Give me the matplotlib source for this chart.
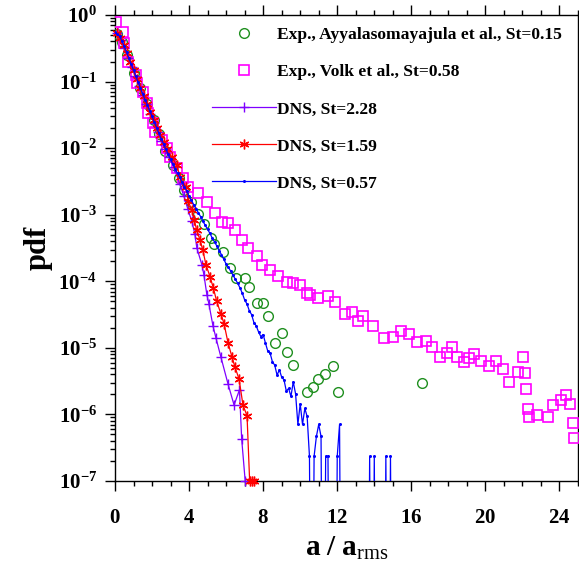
import numpy as np
import matplotlib
matplotlib.use("Agg")
import matplotlib.pyplot as plt
from matplotlib.ticker import FixedLocator, FuncFormatter, LogLocator, MultipleLocator, NullFormatter

plt.rcParams['font.family'] = ['Liberation Serif', 'DejaVu Serif']
plt.rcParams['mathtext.fontset'] = 'custom'
plt.rcParams['mathtext.rm'] = 'Liberation Serif'
plt.rcParams['mathtext.bf'] = 'Liberation Serif:bold'
plt.rcParams['mathtext.it'] = 'Liberation Serif:italic'

# ---------------- data ----------------
# Exp., Ayyalasomayajula et al., St=0.15
ayy_x = [0.11, 0.38, 0.65, 1.02, 1.35, 1.73, 2.10, 2.37, 2.70, 3.13, 3.45, 3.72,
         4.10, 4.47, 4.80, 5.18, 5.34, 5.82, 6.20, 6.52, 7.01, 7.22, 7.65, 7.98,
         8.25, 8.63, 9.00, 9.27, 9.60, 10.35, 10.67, 10.94, 11.32, 11.75, 12.02, 16.60]
ayy_y = [0.519, 0.393, 0.251, 0.135, 0.0802, 0.0461, 0.0265, 0.0163, 0.00908, 0.00560,
         0.00357, 0.00236, 0.00156, 0.00103, 7.28e-4, 4.49e-4, 3.65e-4, 2.76e-4, 1.59e-4,
         1.12e-4, 1.12e-4, 8.24e-5, 4.74e-5, 4.74e-5, 3.02e-5, 1.19e-5, 1.68e-5, 8.7e-6,
         5.56e-6, 2.18e-6, 2.59e-6, 3.43e-6, 4.07e-6, 5.37e-6, 2.18e-6, 2.98e-6]

# Exp., Volk et al., St=0.58
volk_x = [0.05, 0.43, 0.49, 0.70, 1.13, 1.19, 1.51, 1.73, 1.78, 2.05, 2.16, 2.53, 2.80,
          2.96, 3.34, 3.67, 3.94, 4.47, 4.96, 5.39, 5.77, 6.09, 6.47, 6.85, 7.17, 7.65,
          7.92, 8.36, 8.79, 9.27, 9.60, 9.97, 10.35, 10.51, 10.94, 11.48, 11.86, 12.40,
          12.78, 13.10, 13.37, 13.91, 14.50, 14.99, 15.42, 15.85, 16.28, 16.77, 17.14,
          17.57, 17.90, 18.22, 18.49, 18.87, 19.14, 19.41, 19.78, 20.22, 20.59, 20.97,
          21.29, 21.78, 22.05, 22.16, 22.21, 22.32, 22.37, 22.80, 23.40, 23.67, 24.10,
          24.37, 24.58, 24.74, 24.80]
volk_y = [0.785, 0.556, 0.380, 0.197, 0.126, 0.0953, 0.0698, 0.0477, 0.0338, 0.0239,
          0.0175, 0.0133, 0.0101, 0.00738, 0.00505, 0.00357, 0.00261, 0.00212, 0.00156,
          0.00106, 7.80e-4, 7.53e-4, 5.91e-4, 4.19e-4, 3.18e-4, 2.41e-4, 1.76e-4, 1.48e-4,
          1.21e-4, 9.8e-5, 9.46e-5, 8.83e-5, 6.70e-5, 6.25e-5, 5.63e-5, 6.04e-5, 4.91e-5,
          3.24e-5, 3.47e-5, 2.54e-5, 3.02e-5, 2.14e-5, 1.41e-5, 1.46e-5, 1.80e-5, 1.62e-5,
          1.23e-5, 1.27e-5, 1.04e-5, 7.33e-6, 8.41e-6, 1.04e-5, 7.33e-6, 6.16e-6, 7.08e-6,
          8.13e-6, 6.38e-6, 5.37e-6, 6.38e-6, 4.84e-6, 3.09e-6, 4.36e-6, 7.33e-6, 4.22e-6,
          2.42e-6, 1.21e-6, 9.2e-7, 9.9e-7, 9.2e-7, 1.39e-6, 1.66e-6, 1.97e-6, 1.44e-6,
          7.48e-7, 4.46e-7]

# DNS, St=2.28  (log10 of pdf)
st228_x = [0.10, 0.30, 0.50, 0.70, 0.90, 1.10, 1.30, 1.50, 1.70, 1.90, 2.10, 2.30, 2.50,
           2.70, 2.90, 3.18, 3.50, 3.72, 3.94, 4.15, 4.31, 4.42, 4.69, 4.80, 4.96, 5.07,
           5.29, 5.45, 5.72, 6.10, 6.43, 6.72, 6.84, 7.03]
st228_log = [-0.27, -0.37, -0.50, -0.64, -0.78, -0.92, -1.06, -1.20, -1.34, -1.48, -1.62,
             -1.76, -1.89, -2.02, -2.14, -2.28, -2.54, -2.72, -2.92, -3.10, -3.29, -3.50,
             -3.75, -3.90, -4.20, -4.34, -4.67, -4.85, -5.14, -5.54, -5.86, -5.63, -6.37,
             -7.00]

# DNS, St=1.59  (log10 of pdf)
st159_x = [0.10, 0.28, 0.46, 0.64, 0.82, 1.00, 1.18, 1.36, 1.54, 1.72, 1.90, 2.08, 2.26,
           2.44, 2.62, 2.80, 3.06, 3.33, 3.51, 3.83, 3.96, 4.14, 4.28, 4.41, 4.59, 4.74,
           4.91, 5.13, 5.31, 5.49, 5.72, 5.89, 6.10, 6.32, 6.48, 6.70, 6.91, 7.13, 7.27,
           7.38, 7.50]
st159_log = [-0.27, -0.34, -0.45, -0.57, -0.70, -0.83, -0.96, -1.09, -1.21, -1.33, -1.45,
             -1.57, -1.69, -1.80, -1.91, -2.02, -2.13, -2.25, -2.43, -2.58, -2.80, -2.93,
             -3.08, -3.23, -3.38, -3.53, -3.75, -3.93, -4.10, -4.30, -4.49, -4.64, -4.92,
             -5.14, -5.29, -5.47, -5.86, -6.02, -7.00, -7.00, -7.00]

# DNS, St=0.57  (log10 of pdf on a 0.125 grid; None = empty bin)
st057_x0 = 0.0
st057_dx = 0.125
st057_log = [-0.26, -0.28, -0.32, -0.39, -0.47, -0.56, -0.65, -0.74, -0.83, -0.92, -1.01,
             -1.10, -1.19, -1.27, -1.35, -1.44, -1.52, -1.61, -1.69, -1.78, -1.86, -1.94,
             -2.02, -2.09, -2.17, -2.24, -2.31, -2.38, -2.44, -2.51, -2.58, -2.65, -2.72,
             -2.78, -2.85, -2.91, -2.97, -3.03, -3.10, -3.16, -3.22, -3.28, -3.35, -3.41,
             -3.47, -3.54, -3.60, -3.67, -3.74, -3.79, -3.85, -3.91, -3.97, -4.03, -4.10,
             -4.18,
             -4.28, -4.34, -4.44, -4.50, -4.62, -4.67, -4.76, -4.83, -4.80, -4.93, -5.05,
             -5.08, -5.21, -5.26, -5.41, -5.33, -5.44, -5.48, -5.65, -5.61, -5.73, -5.51,
             -5.69, -6.15, -5.84, -6.15, -5.91, -6.03,
             -6.63, None, -6.63, -6.33, -6.15, -6.33, None, -6.63, -6.63, None, None,
             None, -6.63, -6.15, None, None, None, None, None, None, None, None, None,
             None, None, None, -6.63, None, -6.63, None, None, None, None, -6.63, None,
             -6.63, None]

x_ticks = [0, 4, 8, 12, 16, 20, 24]
y_ticks_exp = [0, -1, -2, -3, -4, -5, -6, -7]

# ---------------- figure ----------------
W, H = 579, 569
fig = plt.figure(figsize=(W / 100, H / 100), dpi=100)
ax = fig.add_axes([115 / W, 1 - 481 / H, 463 / W, 466 / H])

FLOOR = 1e-12
c_green = '#1f8f1f'
c_mag = '#ff00ff'
c_purp = '#7f00ff'
c_red = '#ff0000'
c_blue = '#0000ff'

ax.plot(ayy_x, ayy_y, linestyle='none', marker='o', ms=7.0, mfc='none', mec=c_green,
        mew=1.0, label='Exp., Ayyalasomayajula et al., St=0.15', zorder=3)
ax.plot(volk_x, volk_y, linestyle='none', marker='s', ms=7.2, mfc='none', mec=c_mag,
        mew=1.2, label='Exp., Volk et al., St=0.58', zorder=3)
ax.plot(st228_x, [10 ** v for v in st228_log], color=c_purp, lw=0.9, marker='+', ms=7,
        mew=1.0, label='DNS, St=2.28', zorder=4, clip_on=False)
ax.plot(st159_x, [10 ** v for v in st159_log], color=c_red, lw=0.9, marker=(6, 2, 0),
        ms=7, mew=1.0, label='DNS, St=1.59', zorder=5, clip_on=False)
bx = [st057_x0 + i * st057_dx for i in range(len(st057_log))]
by = [FLOOR if v is None else 10 ** v for v in st057_log]
ax.plot(bx, by, color=c_blue, lw=0.9, marker='o', ms=2.2, mew=0,
        label='DNS, St=0.57', zorder=6)

ax.set_yscale('log')
ax.set_xlim(0, 25)
ax.set_ylim(1e-7, 1)

ax.xaxis.set_major_locator(FixedLocator(x_ticks))
ax.xaxis.set_minor_locator(MultipleLocator(1))
ax.yaxis.set_major_locator(FixedLocator([10.0 ** e for e in y_ticks_exp]))
ax.yaxis.set_minor_locator(LogLocator(base=10, subs=np.arange(2, 10), numticks=20))
ax.yaxis.set_minor_formatter(NullFormatter())
ax.xaxis.set_major_formatter(FuncFormatter(lambda v, p: r'$\mathbf{%d}$' % round(v)))
ax.yaxis.set_major_formatter(FuncFormatter(
    lambda v, p: r'$\mathbf{10^{%d}}$' % round(np.log10(v))))

ax.tick_params(which='both', direction='out', top=True, right=True,
               labelsize=15, width=1.0, colors='black')
ax.tick_params(which='major', length=7)
ax.tick_params(which='minor', length=3.5)
ax.tick_params(axis='x', pad=13)
ax.tick_params(axis='y', pad=6)
for s in ax.spines.values():
    s.set_linewidth(1.0)

ax.set_xlabel(r'$\mathbf{a\ /\ a}_{\mathrm{rms}}$', fontsize=21, labelpad=5)
ax.set_ylabel('pdf', fontsize=22, fontweight='bold', labelpad=4)

leg = ax.legend(loc='upper left', bbox_to_anchor=((212 - 115) / 463, 1 - 12 / 466),
                frameon=False, handlelength=3.65, handletextpad=0.05, labelspacing=1.19,
                borderpad=0, borderaxespad=0,
                prop={'family': 'Liberation Serif', 'weight': 'bold', 'size': 12.6})

fig.savefig('out.png', dpi=100)
